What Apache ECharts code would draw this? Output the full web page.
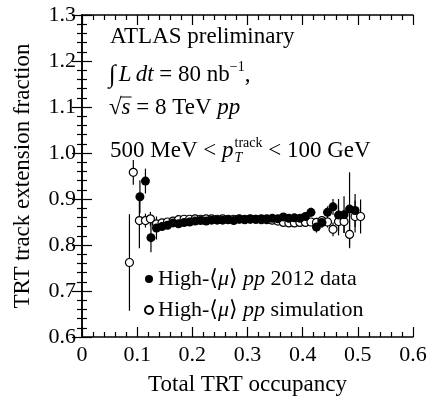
<!DOCTYPE html>
<html>
<head>
<meta charset="utf-8">
<script src="https://cdn.jsdelivr.net/npm/echarts@6/dist/echarts.min.js"></script>
<style>
  html, body { margin: 0; padding: 0; background: #fff; }
  #chart { width: 430px; height: 401px; }
</style>
</head>
<body>
<div id="chart"></div>
<script>
// data
var dataX = [0.105, 0.115, 0.125, 0.135, 0.145, 0.155, 0.165, 0.175, 0.185, 0.195,
             0.205, 0.215, 0.225, 0.235, 0.245, 0.255, 0.265, 0.275, 0.285, 0.295,
             0.305, 0.315, 0.325, 0.335, 0.345, 0.355, 0.365, 0.375, 0.385, 0.395,
             0.405, 0.415, 0.425, 0.435, 0.445, 0.455, 0.465, 0.475, 0.485, 0.495];
var dataY = [0.905, 0.939, 0.816, 0.837, 0.840, 0.843, 0.848, 0.846, 0.849, 0.850,
             0.852, 0.853, 0.852, 0.854, 0.854, 0.854, 0.855, 0.853, 0.856, 0.855,
             0.856, 0.856, 0.857, 0.857, 0.858, 0.857, 0.861, 0.858, 0.859, 0.858,
             0.862, 0.871, 0.839, 0.849, 0.871, 0.883, 0.865, 0.866, 0.878, 0.875];
var dataErr = [0.036, 0.027, 0.032, 0.025, 0.008, 0.007, 0.006, 0.006, 0.005, 0.005,
               0.005, 0.005, 0.005, 0.005, 0.005, 0.005, 0.005, 0.005, 0.005, 0.005,
               0.005, 0.005, 0.005, 0.005, 0.005, 0.005, 0.006, 0.006, 0.006, 0.006,
               0.006, 0.010, 0.012, 0.012, 0.013, 0.017, 0.035, 0.040, 0.080, 0.036];

var simX = [0.086, 0.093, 0.104, 0.115, 0.124, 0.135, 0.145, 0.155, 0.165, 0.175,
            0.185, 0.195, 0.205, 0.215, 0.225, 0.235, 0.245, 0.255, 0.265, 0.275,
            0.285, 0.295, 0.305, 0.315, 0.325, 0.335, 0.345, 0.355, 0.365, 0.375,
            0.385, 0.395, 0.405, 0.415, 0.425, 0.435, 0.445, 0.455, 0.465, 0.475,
            0.485, 0.495, 0.505];
var simY = [0.762, 0.958, 0.853, 0.853, 0.857, 0.846, 0.848, 0.850, 0.852, 0.855,
            0.856, 0.856, 0.857, 0.856, 0.857, 0.857, 0.856, 0.857, 0.856, 0.856,
            0.857, 0.856, 0.857, 0.856, 0.855, 0.855, 0.854, 0.852, 0.849, 0.848,
            0.848, 0.849, 0.849, 0.850, 0.849, 0.853, 0.850, 0.834, 0.851, 0.851,
            0.823, 0.862, 0.862];
var simErr = [0.105, 0.027, 0.060, 0.015, 0.015, 0.010, 0.006, 0.005, 0.005, 0.005,
              0.005, 0.005, 0.005, 0.005, 0.005, 0.005, 0.005, 0.005, 0.005, 0.005,
              0.005, 0.005, 0.005, 0.005, 0.005, 0.005, 0.005, 0.005, 0.005, 0.005,
              0.005, 0.005, 0.006, 0.008, 0.010, 0.010, 0.012, 0.015, 0.030, 0.025,
              0.030, 0.035, 0.037];

var seriesNames = ['High-⟨μ⟩ pp 2012 data', 'High-⟨μ⟩ pp simulation'];

var FONT = '"Liberation Serif", "DejaVu Serif", serif';

function pts(xs, ys, es) {
  return xs.map(function (x, i) { return [x, ys[i], es[i]]; });
}

// vertical error bar from value +- err
function errBar(params, api) {
  var x = api.value(0), y = api.value(1), e = api.value(2);
  var p1 = api.coord([x, y + e]);
  var p2 = api.coord([x, y - e]);
  return {
    type: 'line',
    shape: { x1: p1[0], y1: p1[1], x2: p2[0], y2: p2[1] },
    style: { stroke: '#000', lineWidth: 1.2 }
  };
}

// put runs of text one after the other, measured with canvas
var mctx = document.createElement('canvas').getContext('2d');
function fontOf(r) { return (r.it ? 'italic ' : '') + (r.size || 23) + 'px ' + FONT; }
function textLine(x, y, runs) {
  var out = [];
  runs.forEach(function (r) {
    var f = fontOf(r);
    mctx.font = f;
    r.x0 = x;
    out.push({
      type: 'text', x: x, y: y + (r.dy || 0), silent: true,
      style: { text: r.t, font: f, fill: '#000', verticalAlign: 'middle', textVerticalAlign: 'middle' }
    });
    r.x1 = x + mctx.measureText(r.t).width;
    if (!r.stay) x = r.x1 + (r.dx || 0);
  });
  return out;
}

var graphics = [];
graphics = graphics.concat(textLine(110, 37, [{ t: 'ATLAS preliminary' }]));
graphics = graphics.concat(textLine(109, 75, [
  { t: '∫', size: 25, dx: 3 }, { t: 'L', it: true, dx: 4 }, { t: 'dt', it: true },
  { t: ' = 80 nb' }, { t: '−1', size: 14, dy: -8 }, { t: ',' }
]));
var rootRuns = [{ t: '√', dx: 0 }, { t: 's', it: true }, { t: ' = 8 TeV ' }, { t: 'pp', it: true }];
graphics = graphics.concat(textLine(109, 108, rootRuns));
graphics.push({
  type: 'line', silent: true,
  shape: { x1: rootRuns[0].x1 - 1, y1: 97, x2: rootRuns[1].x1 + 1, y2: 97 },
  style: { stroke: '#000', lineWidth: 1 }
});
graphics = graphics.concat(textLine(110, 151, [
  { t: '500 MeV < ' }, { t: 'p', it: true, dx: 1 },
  { t: 'T', it: true, size: 14, dy: 7, stay: true }, { t: 'track', size: 14, dy: -8 },
  { t: ' < 100 GeV' }
]));

var tickFont = { color: '#000', fontFamily: FONT, fontSize: 22 };
var axisBase = {
  axisLine: { show: true, lineStyle: { color: '#000', width: 1.5 } },
  axisTick: { show: true, inside: true, length: 10, lineStyle: { color: '#000', width: 1.2 } },
  minorTick: { show: true, splitNumber: 5, length: 5, lineStyle: { color: '#000', width: 1.2 } },
  splitLine: { show: false },
  minorSplitLine: { show: false }
};
function ax(extra) { return Object.assign({}, JSON.parse(JSON.stringify(axisBase)), extra); }

var chart = echarts.init(document.getElementById('chart'));
chart.setOption({
  animation: false,
  backgroundColor: '#fff',
  grid: { left: 82, right: 17, top: 15, bottom: 64 },
  xAxis: [
    ax({
      type: 'value', min: 0, max: 0.6, interval: 0.1, position: 'bottom',
      name: 'Total TRT occupancy', nameLocation: 'middle', nameGap: 36,
      nameTextStyle: { color: '#000', fontFamily: FONT, fontSize: 23 },
      axisLabel: Object.assign({ margin: 7, formatter: function (v) { return v === 0 ? '0' : v.toFixed(1); } }, tickFont)
    }),
    ax({ type: 'value', min: 0, max: 0.6, interval: 0.1, position: 'top', axisLabel: { show: false } })
  ],
  yAxis: [
    ax({
      type: 'value', min: 0.6, max: 1.3, interval: 0.1, position: 'left',
      name: 'TRT track extension fraction', nameLocation: 'middle', nameGap: 48,
      nameTextStyle: { color: '#000', fontFamily: FONT, fontSize: 23 },
      axisLabel: Object.assign({ margin: 6, formatter: function (v) { return v.toFixed(1); } }, tickFont)
    }),
    ax({ type: 'value', min: 0.6, max: 1.3, interval: 0.1, position: 'right', axisLabel: { show: false } })
  ],
  legend: {
    orient: 'vertical', left: 139, top: 262,
    itemWidth: 8, itemHeight: 8, itemGap: 7,
    data: seriesNames,
    formatter: function (name) {
      var tail = name.indexOf('2012') >= 0 ? ' 2012 data' : ' simulation';
      return '{r|High-⟨}{i|μ}{r|⟩ }{i|pp}{r|' + tail + '}';
    },
    textStyle: {
      color: '#000', fontFamily: FONT, fontSize: 22, lineHeight: 24, padding: [0, 0, 0, 0],
      rich: {
        r: { fontFamily: FONT, fontSize: 22, color: '#000' },
        i: { fontFamily: FONT, fontSize: 22, fontStyle: 'italic', color: '#000' }
      }
    }
  },
  series: [
    { type: 'custom', renderItem: errBar, data: pts(dataX, dataY, dataErr), z: 1, silent: true },
    { type: 'custom', renderItem: errBar, data: pts(simX, simY, simErr), z: 1, silent: true },
    {
      name: seriesNames[0], type: 'scatter', symbol: 'circle', symbolSize: 9, z: 4,
      itemStyle: { color: '#000', opacity: 1 },
      data: dataX.map(function (x, i) { return [x, dataY[i]]; })
    },
    {
      name: seriesNames[1], type: 'scatter', symbol: 'circle', symbolSize: 8, z: 3,
      itemStyle: { color: '#fff', borderColor: '#000', borderWidth: 1.2, opacity: 1 },
      data: simX.map(function (x, i) { return [x, simY[i]]; })
    }
  ],
  graphic: graphics
});
</script>
</body>
</html>
